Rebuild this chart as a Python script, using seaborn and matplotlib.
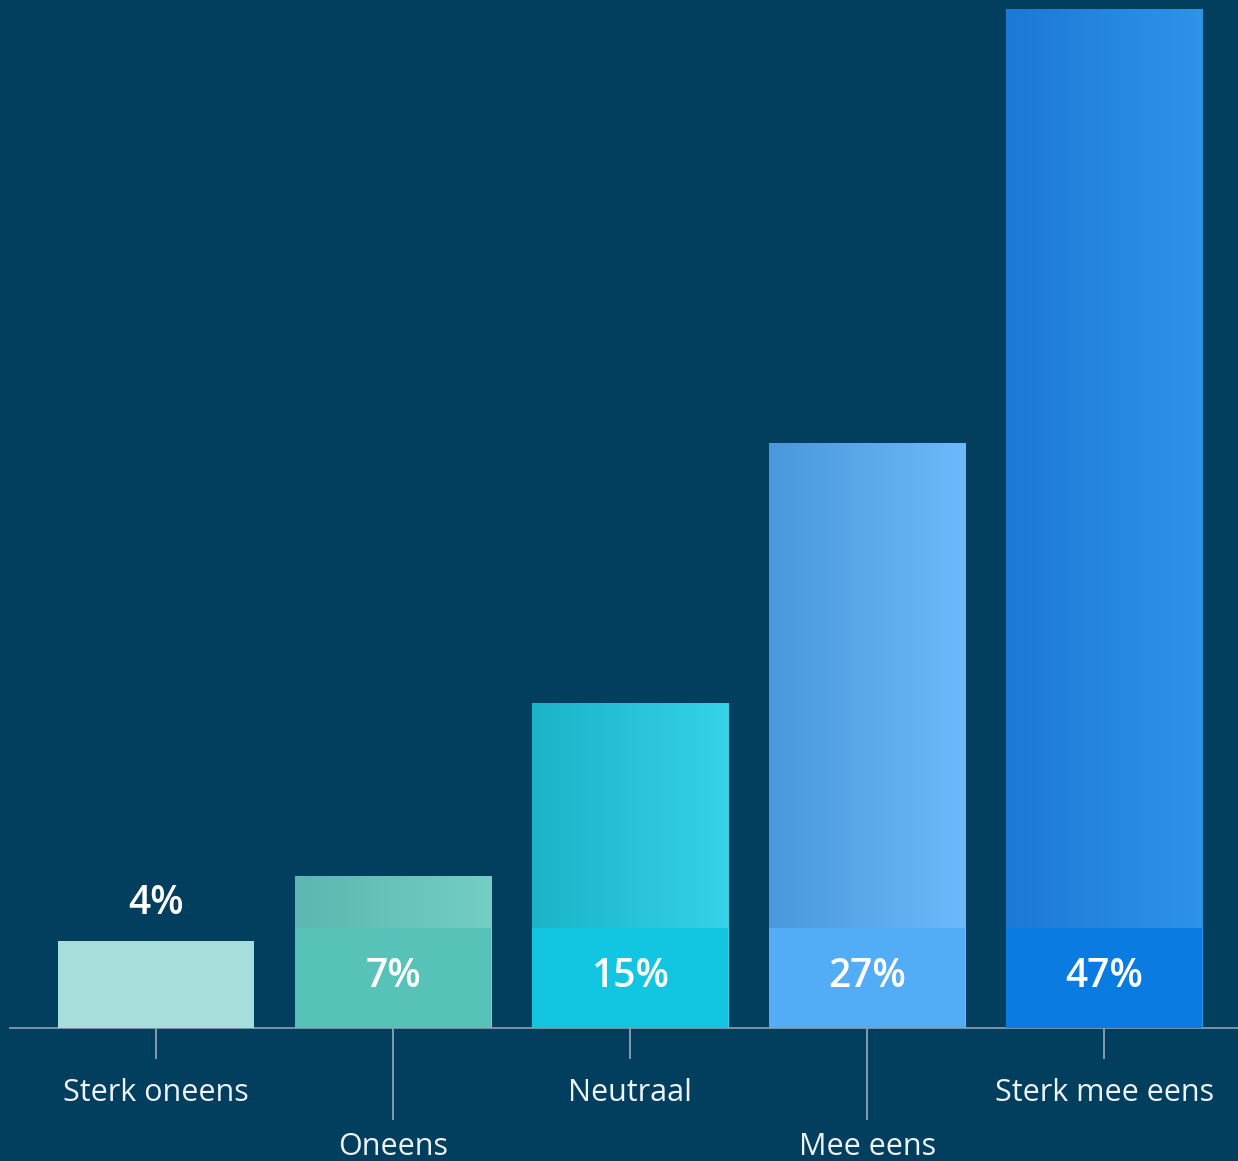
import numpy as np
import pandas as pd
import matplotlib
matplotlib.use("Agg")
import matplotlib.pyplot as plt
import seaborn as sns
from matplotlib.colors import LinearSegmentedColormap

categories = ["Sterk oneens", "Oneens", "Neutraal", "Mee eens", "Sterk mee eens"]
values = [4, 7, 15, 27, 47]
value_labels = ["4%", "7%", "15%", "27%", "47%"]

BG = "#023F5E"
band_colors = ["#A6DEDC", "#56C2B8", "#12C6E2", "#52ACF6", "#0A7BE0"]
upper_left = ["#A6DEDC", "#5CB7B0", "#1AB3C8", "#4A98DC", "#1C79D6"]
upper_right = ["#A6DEDC", "#74CEC6", "#36D2E8", "#6CBAFB", "#2F93EA"]

sns.set_theme(style="white")
plt.rcParams["font.family"] = ["Open Sans", "DejaVu Sans"]

fig = plt.figure(figsize=(12.38, 11.61), dpi=100, facecolor=BG)
ax = fig.add_axes([10/1238, (1161-1028)/1161, 1228/1238, (1028-9)/1161])
ax.set_facecolor(BG)

df = pd.DataFrame({"cat": categories, "val": values})
band_h = 4.6
df["band"] = np.minimum(df["val"], band_h)

sns.barplot(data=df, x="cat", y="val", hue="cat", palette=upper_right,
            width=0.83, saturation=1, legend=False, ax=ax, linewidth=0)
full_patches = list(ax.patches)

# gradient texture for upper parts
for i, p in enumerate(full_patches):
    if i == 0:
        continue
    x0, y0 = p.get_x(), p.get_y()
    w, h = p.get_width(), p.get_height()
    cmap = LinearSegmentedColormap.from_list("g", [upper_left[i], upper_right[i]])
    grad = np.linspace(0, 1, 256).reshape(1, -1)
    im = ax.imshow(grad, extent=[x0, x0 + w, y0, y0 + h], aspect="auto",
                   cmap=cmap, zorder=p.get_zorder() + 0.1, interpolation="bilinear")
    im.set_clip_path(p)

sns.barplot(data=df, x="cat", y="band", hue="cat", palette=band_colors,
            width=0.83, saturation=1, legend=False, ax=ax, linewidth=0, zorder=3)
for p in ax.patches[len(full_patches):]:
    p.set_zorder(3)

ax.set_xlim(-0.616, 4.565)
ax.set_ylim(0, 47)

# value labels
for i, (v, lab) in enumerate(zip(values, value_labels)):
    if v <= band_h:
        y = v + 1.7
    else:
        y = 2.35
    ax.text(i, y, lab, ha="center", va="center", color="white",
            fontsize=28, fontweight="semibold", zorder=5)

# axes / ticks
for s in ["top", "left", "right"]:
    ax.spines[s].set_visible(False)
ax.spines["bottom"].set_color("#8DA2B0")
ax.spines["bottom"].set_linewidth(1.2)
ax.set_yticks([])
ax.set_xlabel("")
ax.set_ylabel("")

major_idx = [0, 2, 4]
minor_idx = [1, 3]
ax.set_xticks(major_idx, [categories[i] for i in major_idx])
ax.set_xticks(minor_idx, [categories[i] for i in minor_idx], minor=True)
ax.tick_params(axis="x", which="major", length=22, width=1.1, color="#A3B6C2",
               pad=14, labelsize=22, labelcolor="#EEF3F6", direction="out", bottom=True)
ax.tick_params(axis="x", which="minor", length=66, width=1.1, color="#A3B6C2",
               pad=9, labelsize=22, labelcolor="#EEF3F6", direction="out", bottom=True)

fig.savefig("out.png", dpi=100, facecolor=BG)
